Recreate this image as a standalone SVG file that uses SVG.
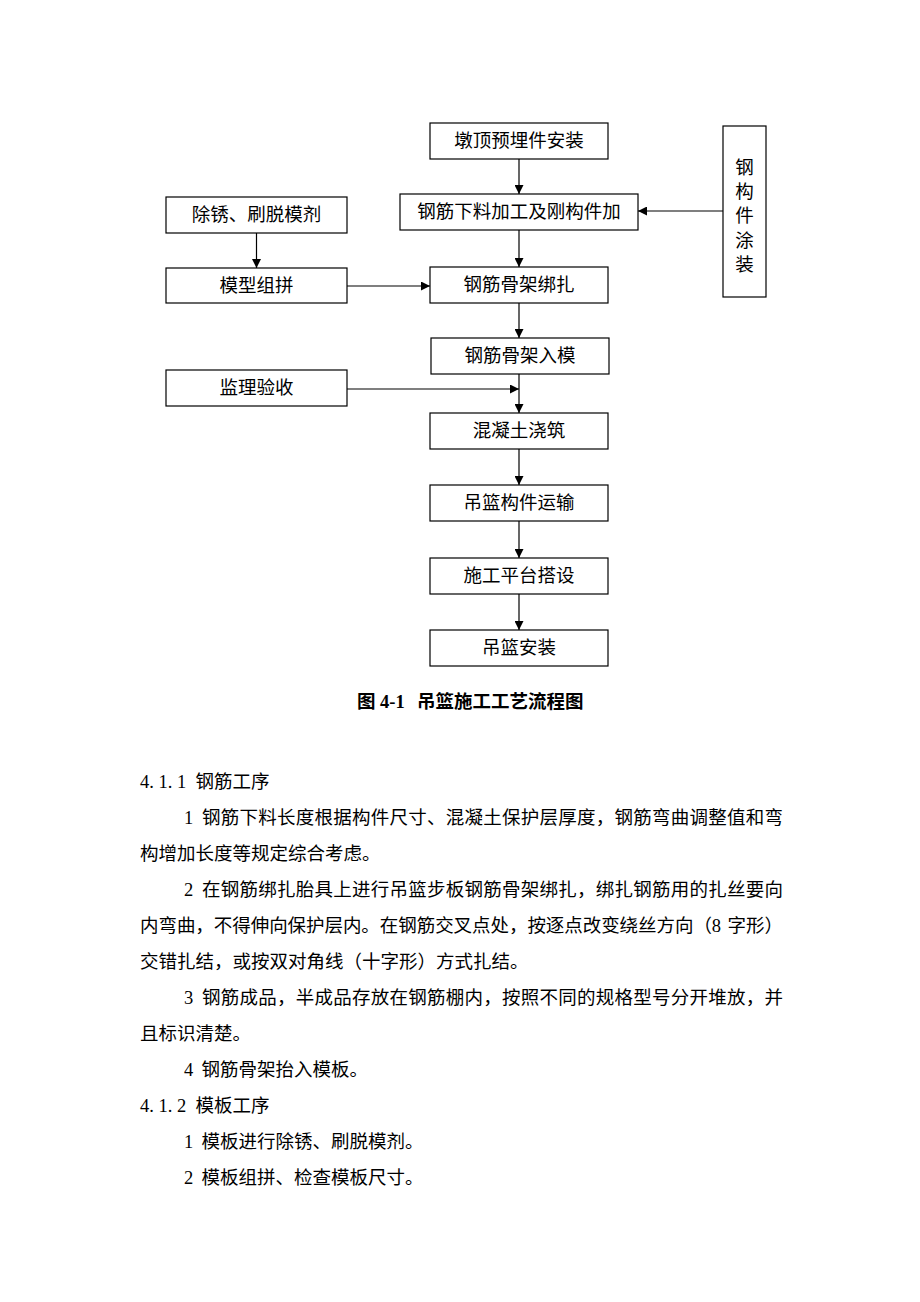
<svg xmlns="http://www.w3.org/2000/svg" width="920" height="1302" viewBox="0 0 920 1302">
<style>
.box{fill:#fff;stroke:#000;stroke-width:1.2}
.bt{font-family:"Liberation Serif","Noto Sans CJK SC",serif;font-size:18.5px;fill:#000;text-anchor:middle;dominant-baseline:central}
.ln{stroke:#000;stroke-width:1.2;fill:none}
.tx{font-family:"Liberation Serif","Noto Sans CJK SC",serif;font-size:18.5px;fill:#000;dominant-baseline:central}
.cap{font-family:"Liberation Serif","Noto Sans CJK SC",serif;font-size:18.5px;font-weight:bold;fill:#000;dominant-baseline:central}
</style>
<defs>
<marker id="ah" viewBox="0 0 10 10" refX="10" refY="5" markerWidth="9" markerHeight="9" markerUnits="userSpaceOnUse" orient="auto">
<path d="M0,0 L10,5 L0,10 z" fill="#000"/>
</marker>
</defs>
<rect width="920" height="1302" fill="#fff"/>
<g id="n1"><rect class="box" x="430" y="123" width="178" height="36"/><text class="bt" x="519" y="141">墩顶预埋件安装</text></g>
<g id="n2"><rect class="box" x="400" y="194" width="238" height="36"/><text class="bt" x="519" y="212">钢筋下料加工及刚构件加</text></g>
<g id="n3"><rect class="box" x="723" y="126" width="43" height="171"/>
<text class="bt" x="744.5" y="168">钢</text><text class="bt" x="744.5" y="192">构</text><text class="bt" x="744.5" y="216">件</text><text class="bt" x="744.5" y="241">涂</text><text class="bt" x="744.5" y="265">装</text></g>
<g id="n4"><rect class="box" x="166" y="197" width="181" height="36"/><text class="bt" x="256.5" y="215">除锈、刷脱模剂</text></g>
<g id="n5"><rect class="box" x="166" y="268" width="181" height="35"/><text class="bt" x="256.5" y="286">模型组拼</text></g>
<g id="n6"><rect class="box" x="430" y="267" width="178" height="36"/><text class="bt" x="519" y="285">钢筋骨架绑扎</text></g>
<g id="n7"><rect class="box" x="431" y="338" width="178" height="36"/><text class="bt" x="520" y="356">钢筋骨架入模</text></g>
<g id="n8"><rect class="box" x="166" y="370" width="181" height="36"/><text class="bt" x="256.5" y="388">监理验收</text></g>
<g id="n9"><rect class="box" x="430" y="413" width="178" height="36"/><text class="bt" x="519" y="431">混凝土浇筑</text></g>
<g id="n10"><rect class="box" x="430" y="485" width="178" height="36"/><text class="bt" x="519" y="503">吊篮构件运输</text></g>
<g id="n11"><rect class="box" x="430" y="558" width="178" height="36"/><text class="bt" x="519" y="576">施工平台搭设</text></g>
<g id="n12"><rect class="box" x="430" y="630" width="178" height="36"/><text class="bt" x="519" y="648">吊篮安装</text></g>
<g id="connectors">
<line class="ln" x1="519" y1="159" x2="519" y2="194" marker-end="url(#ah)"/>
<line class="ln" x1="519" y1="230" x2="519" y2="267" marker-end="url(#ah)"/>
<line class="ln" x1="723" y1="211" x2="638" y2="211" marker-end="url(#ah)"/>
<line class="ln" x1="256.5" y1="233" x2="256.5" y2="268" marker-end="url(#ah)"/>
<line class="ln" x1="347" y1="286" x2="430" y2="286" marker-end="url(#ah)"/>
<line class="ln" x1="519" y1="303" x2="519" y2="338" marker-end="url(#ah)"/>
<line class="ln" x1="519" y1="374" x2="519" y2="413" marker-end="url(#ah)"/>
<line class="ln" x1="347" y1="389" x2="519" y2="389" marker-end="url(#ah)"/>
<line class="ln" x1="519" y1="449" x2="519" y2="485" marker-end="url(#ah)"/>
<line class="ln" x1="519" y1="521" x2="519" y2="558" marker-end="url(#ah)"/>
<line class="ln" x1="519" y1="594" x2="519" y2="630" marker-end="url(#ah)"/>
</g>
<text class="cap" x="357 375.5 380" y="702">图 4-1<tspan x="405"> </tspan><tspan x="417">吊篮施工工艺流程图</tspan></text>
<g id="body">
<text class="tx" x="140 149.25 158.5 167.75 177 186.25 195.5" y="782">4.1.1 钢筋工序</text>
<text class="tx" x="184" y="818">1</text>
<text class="tx" x="202" y="818" textLength="581" lengthAdjust="spacing">钢筋下料长度根据构件尺寸、混凝土保护层厚度，钢筋弯曲调整值和弯</text>
<text class="tx" x="140" y="854">构增加长度等规定综合考虑。</text>
<text class="tx" x="184" y="890">2</text>
<text class="tx" x="202" y="890" textLength="581" lengthAdjust="spacing">在钢筋绑扎胎具上进行吊篮步板钢筋骨架绑扎，绑扎钢筋用的扎丝要向</text>
<text class="tx" x="140" y="926" textLength="643" lengthAdjust="spacing">内弯曲，不得伸向保护层内。在钢筋交叉点处，按逐点改变绕丝方向（8<tspan dx="2"> 字形）</tspan></text>
<text class="tx" x="140" y="962">交错扎结，或按双对角线（十字形）方式扎结。</text>
<text class="tx" x="184" y="998">3</text>
<text class="tx" x="202" y="998" textLength="581" lengthAdjust="spacing">钢筋成品，半成品存放在钢筋棚内，按照不同的规格型号分开堆放，并</text>
<text class="tx" x="140" y="1034">且标识清楚。</text>
<text class="tx" x="184 193.25 201.5" y="1070">4 钢筋骨架抬入模板。</text>
<text class="tx" x="140 149.25 158.5 167.75 177 186.25 195.5" y="1106">4.1.2 模板工序</text>
<text class="tx" x="184 193.25 201.5" y="1142">1 模板进行除锈、刷脱模剂。</text>
<text class="tx" x="184 193.25 201.5" y="1178">2 模板组拼、检查模板尺寸。</text>
</g>
</svg>
